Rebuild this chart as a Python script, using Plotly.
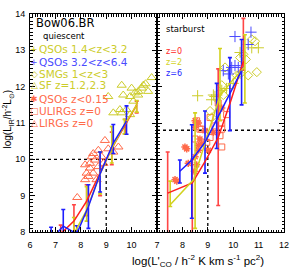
import plotly.graph_objects as go

# ---------------- data ----------------
# left panel (quiescent) median relations with error ranges
QL_red_x = [7.21, 7.73, 8.23, 8.76, 9.22, 9.75, 10.2]
QL_red_y = [7.95, 8.3, 8.85, 9.65, 10.3, 10.95, 11.5]
QL_red_lo = [7.7, 7.9, 8.45, 9.0, 9.85, 10.7, 11.28]
QL_red_hi = [8.19, 8.75, 9.3, 10.2, 10.75, 11.1, 11.6]

QL_yel_x = [7.73, 8.23, 8.76, 9.22, 9.72, 10.2]
QL_yel_y = [7.95, 8.6, 9.6, 10.3, 10.95, 11.5]
QL_yel_lo = [7.8, 8.3, 9.05, 9.9, 10.7, 11.3]
QL_yel_hi = [8.4, 9.25, 10.2, 10.9, 11.1, 11.62]

QL_blu_x = [6.83, 7.31, 7.84, 8.3, 8.76, 9.28, 9.8]
QL_blu_y = [7.8, 8.16, 7.95, 8.7, 9.6, 10.45, 11.05]
QL_blu_lo = [7.5, 7.8, 7.6, 8.1, 9.1, 10.16, 10.69]
QL_blu_hi = [8.13, 8.62, 8.17, 9.3, 10.2, 10.96, 11.47]

# right panel (starburst) median relations
SB_red_x = [7.42, 8.39, 8.9, 9.41, 9.9, 10.4]
SB_red_y = [9.07, 9.35, 9.95, 10.6, 11.6, 12.7]
SB_red_bx = [7.42, 8.39, 9.41, 10.4]
SB_red_by = [9.07, 9.35, 10.6, 12.7]
SB_red_lo = [7.5, 7.5, 8.73, 12.45]
SB_red_hi = [10.2, 10.0, 12.49, 13.88]

SB_yel_x = [7.52, 8.45, 9.0, 9.48, 10.0, 10.46]
SB_yel_y = [8.75, 9.45, 10.7, 11.75, 12.2, 12.55]
SB_yel_bx = [7.52, 8.5, 9.48, 10.46]
SB_yel_by = [8.75, 9.6, 11.75, 12.55]
SB_yel_lo = [8.7, 8.1, 11.06, 11.55]
SB_yel_hi = [9.4, 11.28, 13.05, 13.43]

SB_blu_x = [7.9, 8.37, 8.89, 9.35, 9.87, 10.33]
SB_blu_y = [9.67, 9.98, 10.47, 11.1, 11.8, 12.44]
SB_blu_lo = [9.35, 8.38, 9.62, 10.3, 10.79, 11.5]
SB_blu_hi = [9.98, 10.95, 11.33, 12.09, 12.8, 13.3]

# observations
SF_x = [9.61, 9.08, 9.67, 9.94, 10.13, 10.26, 10.4, 10.79, 10.26, 10.07, 9.54, 9.61, 9.8, 9.94, 9.28, 10.46, 10.0, 10.55, 10.65]
SF_y = [12.04, 11.73, 11.77, 11.73, 11.83, 11.87, 11.96, 12.25, 11.77, 11.6, 11.37, 11.28, 11.37, 11.23, 11.28, 12.04, 11.96, 12.08, 11.87]

LIRG_x = [8.95, 9.48, 8.49, 8.69, 8.36, 8.56, 8.36, 8.49, 8.3, 8.69, 8.82, 8.43, 9.08, 9.28, 8.89, 8.62, 7.86, 8.17, 8.23, 8.17]
LIRG_y = [10.52, 10.34, 10.16, 10.25, 9.89, 9.98, 9.76, 9.62, 9.53, 9.8, 10.07, 10.07, 10.29, 10.2, 9.89, 9.44, 8.95, 9.85, 9.62, 9.44]

QSOhi_x = [10.07, 10.70, 10.59, 9.61, 10.07, 10.2, 9.94, 9.81]
QSOhi_y = [13.38, 13.5, 13.16, 12.44, 12.58, 12.53, 12.53, 12.35]

SMG_x = [10.86, 10.73, 10.93, 9.68, 10.27, 10.27, 10.4, 10.59, 9.09, 9.55, 9.61, 10.14, 9.15, 10.5]
SMG_y = [13.25, 13.3, 12.4, 12.53, 12.35, 12.8, 12.89, 12.31, 11.33, 12.04, 11.77, 12.31, 11.15, 12.75]

QSOmid_x = [9.22, 10.73, 10.27, 10.99, 9.55, 9.74, 10.0, 9.28, 9.15, 8.6]
QSOmid_y = [11.77, 13.07, 12.94, 13.07, 11.9, 11.95, 12.09, 11.73, 11.64, 11.75]

ULIRG_x = [8.56, 8.69, 9.09, 9.48, 9.28, 9.55, 9.74, 9.55, 9.41, 8.96, 9.09, 8.5, 8.76, 9.55]
ULIRG_y = [11.06, 10.83, 11.15, 10.65, 10.92, 10.83, 11.23, 11.0, 11.55, 10.47, 10.6, 10.56, 10.83, 10.34]

QSOlo_x = [8.17, 7.78, 7.71, 8.56, 8.5, 8.63, 8.76, 8.47, 8.69, 8.5, 8.89, 8.63, 9.02, 9.55, 9.22, 8.63, 8.1, 8.23, 8.5]
QSOlo_y = [10.29, 9.4, 9.44, 9.85, 10.07, 10.38, 10.43, 9.67, 10.56, 10.88, 10.79, 10.25, 10.25, 11.41, 10.74, 11.0, 10.34, 9.89, 11.06]

QUI_THRESH = [9.0, 10.0]
SB_THRESH = [9.0, 10.8]

LEG_SYM = ["+", "+", "\u25c7", "\u25b3", "\u2731", "\u25a1", "\u25b3"]
LEG_TXT = ["QSOs 1.4<z<3.2", "QSOs 3.2<z<6.4", "SMGs 1<z<3", "SF z=1.2,2.3",
           "QSOs z<0.15", "ULIRGs z=0", "LIRGs z=0"]
Z_TXT = ["z=0", "z=2", "z=6"]

# ---------------- styles ----------------
RED = "#ff1e1e"
RED_BAR = "#ff4646"
YEL = "#d2d21e"
BLU = "#1e1eff"
MRED = "#ff6a4a"
MYEL = "#cccc2a"
MBLU = "#4a4aff"
LEG_COL = [MYEL, MBLU, MYEL, MYEL, MRED, MRED, MRED]
Z_COL = [RED, YEL, BLU]

fig = go.Figure()


def diff(a, b):
    return [x - y for x, y in zip(a, b)]


def add_bars(x, y, lo, hi, col, xa, ya):
    fig.add_trace(go.Scatter(
        x=x, y=y, mode="markers", marker=dict(size=1, color="rgba(0,0,0,0)"),
        error_y=dict(type="data", symmetric=False, array=diff(hi, y),
                     arrayminus=diff(y, lo), color=col, thickness=1.6, width=2),
        xaxis=xa, yaxis=ya, showlegend=False, hoverinfo="skip"))


def add_line(x, y, col, xa, ya):
    fig.add_trace(go.Scatter(x=x, y=y, mode="lines", line=dict(color=col, width=1.5),
                             xaxis=xa, yaxis=ya, showlegend=False))


def add_pts(x, y, sym, col, size, xa, ya, lw=1):
    fig.add_trace(go.Scatter(x=x, y=y, mode="markers",
                             marker=dict(symbol=sym, size=size, color=col,
                                         line=dict(color=col, width=lw)),
                             xaxis=xa, yaxis=ya, showlegend=False))


# left panel
add_pts(LIRG_x, LIRG_y, "triangle-up-open", MRED, 8, "x", "y")
add_pts(SF_x, SF_y, "triangle-up-open", MYEL, 8, "x", "y")
add_bars(QL_red_x, QL_red_y, QL_red_lo, QL_red_hi, RED_BAR, "x", "y")
add_bars(QL_yel_x, QL_yel_y, QL_yel_lo, QL_yel_hi, YEL, "x", "y")
add_bars(QL_blu_x, QL_blu_y, QL_blu_lo, QL_blu_hi, BLU, "x", "y")
add_line(QL_red_x, QL_red_y, RED, "x", "y")
add_line(QL_yel_x, QL_yel_y, YEL, "x", "y")
add_line(QL_blu_x, QL_blu_y, BLU, "x", "y")

# right panel
add_pts(ULIRG_x, ULIRG_y, "square-open", MRED, 6, "x2", "y2")
add_pts(QSOlo_x, QSOlo_y, "asterisk-open", MRED, 6, "x2", "y2", lw=1.5)
add_pts(SMG_x, SMG_y, "diamond-open", MYEL, 7, "x2", "y2")
add_pts(QSOmid_x, QSOmid_y, "cross-thin-open", MYEL, 8, "x2", "y2")
add_pts(QSOhi_x, QSOhi_y, "cross-thin-open", MBLU, 8, "x2", "y2")
add_bars(SB_red_bx, SB_red_by, SB_red_lo, SB_red_hi, RED_BAR, "x2", "y2")
add_bars(SB_yel_bx, SB_yel_by, SB_yel_lo, SB_yel_hi, YEL, "x2", "y2")
add_bars(SB_blu_x, SB_blu_y, SB_blu_lo, SB_blu_hi, BLU, "x2", "y2")
add_line(SB_red_x, SB_red_y, RED, "x2", "y2")
add_line(SB_yel_x, SB_yel_y, YEL, "x2", "y2")
add_line(SB_blu_x, SB_blu_y, BLU, "x2", "y2")

# threshold dotted lines
dot = dict(color="black", width=1.3, dash="dot")
fig.add_shape(type="line", xref="x", yref="y", x0=6, x1=11, y0=QUI_THRESH[1], y1=QUI_THRESH[1], line=dot, layer="below")
fig.add_shape(type="line", xref="x", yref="y", x0=QUI_THRESH[0], x1=QUI_THRESH[0], y0=8, y1=QUI_THRESH[1], line=dot, layer="below")
fig.add_shape(type="line", xref="x2", yref="y2", x0=7, x1=12, y0=SB_THRESH[1], y1=SB_THRESH[1], line=dot, layer="below")
fig.add_shape(type="line", xref="x2", yref="y2", x0=SB_THRESH[0], x1=SB_THRESH[0], y0=8, y1=SB_THRESH[1], line=dot, layer="below")

TICKFONT = dict(family="Liberation Sans, Arial", size=9, color="black")
ax_common = dict(showline=True, linecolor="black", linewidth=1, mirror="allticks",
                 ticks="inside", ticklen=5, tickwidth=1, tickcolor="black",
                 showgrid=False, zeroline=False, tickfont=TICKFONT,
                 minor=dict(ticks="inside", ticklen=2.5, tickcolor="black", dtick=0.1, showgrid=False))

fig.update_layout(
    width=299, height=268, margin=dict(l=30, r=15, t=9, b=36),
    paper_bgcolor="white", plot_bgcolor="white", showlegend=False,
    xaxis=dict(domain=[0, 0.5], range=[6, 11], tickvals=[6, 7, 8, 9, 10], anchor="y",
               ticklabelstandoff=4, **ax_common),
    xaxis2=dict(domain=[0.5, 1], range=[7, 12], tickvals=[7, 8, 9, 10, 11, 12], anchor="y2",
                ticklabelstandoff=4, **ax_common),
    yaxis=dict(domain=[0, 1], range=[8, 14], tickvals=[8, 9, 10, 11, 12, 13, 14], anchor="x",
               ticklabelstandoff=2, **ax_common),
    yaxis2=dict(domain=[0, 1], range=[8, 14], tickvals=[8, 9, 10, 11, 12, 13, 14], anchor="x2",
                showticklabels=False, matches="y", **ax_common),
)

FT = "DejaVu Sans"
ann = []
ann.append(dict(x=0.016, y=0.96, text="Bow06.BR", font=dict(family=FT, size=11.5, color="black"),
                xanchor="left", yanchor="middle"))
ann.append(dict(x=0.043, y=0.901, text="quiescent", font=dict(family=FT, size=8.5, color="black"),
                xanchor="left", yanchor="middle"))
leg_y = [0.8386, 0.7803, 0.7265, 0.6726, 0.6099, 0.5561, 0.4978]
for s, t, c, yy in zip(LEG_SYM, LEG_TXT, LEG_COL, leg_y):
    ann.append(dict(x=0.0177, y=yy, text=s, font=dict(family=FT, size=9, color=c),
                    xanchor="center", yanchor="middle"))
    ann.append(dict(x=0.0295, y=yy, text=t, font=dict(family=FT, size=10.5, color=c),
                    xanchor="left", yanchor="middle"))
ann.append(dict(x=0.5276, y=0.9327, text="starburst", font=dict(family=FT, size=8.5, color="black"),
                xanchor="left", yanchor="middle"))
for t, c, yy in zip(Z_TXT, Z_COL, [0.8296, 0.778, 0.7265]):
    ann.append(dict(x=0.5256, y=yy, text=t, font=dict(family=FT, size=8, color=c),
                    xanchor="left", yanchor="middle"))
ann.append(dict(x=-0.087, y=0.52, textangle=-90,
                text="log(L<sub>IR</sub>/h<sup>-2</sup>L<sub>\u2299</sub>)",
                font=dict(family="Liberation Sans, Arial", size=10, color="black"),
                xanchor="center", yanchor="middle"))
ann.append(dict(x=0.661, y=-0.1345,
                text="log(L'<sub>CO</sub> / h<sup>-2</sup> K km s<sup>-1</sup> pc<sup>2</sup>)",
                font=dict(family="Liberation Sans, Arial", size=11.5, color="black"),
                xanchor="center", yanchor="middle"))
for a in ann:
    a.update(xref="paper", yref="paper", showarrow=False)
fig.update_layout(annotations=ann)

fig.write_html("out.html", config={"displayModeBar": False},
               post_script="document.body.style.margin='0px';")
